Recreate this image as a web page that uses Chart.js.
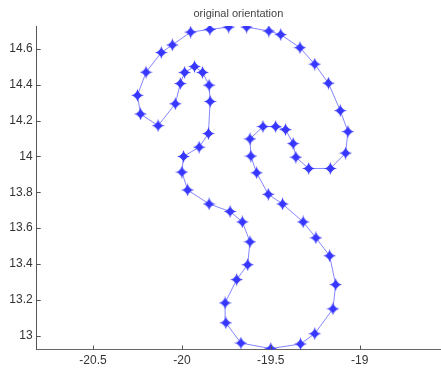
<!DOCTYPE html>
<html>
<head>
<meta charset="utf-8">
<script src="https://cdn.jsdelivr.net/npm/chart.js@4"></script>
<style>
html,body{margin:0;padding:0;background:#fff;}
#wrap{width:441px;height:370px;position:relative;}
</style>
</head>
<body>
<div id="wrap"><canvas id="c" width="441" height="370"></canvas></div>
<script>
const title = 'original orientation';
const xValues = [-19.636, -19.511, -19.444, -19.336, -19.253, -19.176, -19.109, -19.066, -19.079, -19.165, -19.287, -19.359, -19.374, -19.417, -19.473, -19.544, -19.617, -19.612, -19.580, -19.514, -19.434, -19.318, -19.246, -19.169, -19.135, -19.150, -19.253, -19.333, -19.500, -19.668, -19.753, -19.757, -19.692, -19.630, -19.617, -19.660, -19.729, -19.847, -19.968, -20.000, -19.991, -19.903, -19.851, -19.841, -19.847, -19.884, -19.929, -19.985, -20.009, -20.037, -20.134, -20.233, -20.250, -20.202, -20.116, -20.054, -19.951, -19.843, -19.737];
const yValues = [14.722, 14.700, 14.680, 14.607, 14.515, 14.409, 14.256, 14.139, 14.019, 13.933, 13.933, 13.996, 14.072, 14.150, 14.167, 14.167, 14.098, 14.002, 13.909, 13.789, 13.735, 13.635, 13.546, 13.446, 13.285, 13.150, 13.011, 12.954, 12.928, 12.959, 13.072, 13.183, 13.313, 13.396, 13.524, 13.635, 13.693, 13.735, 13.813, 13.913, 14.000, 14.052, 14.128, 14.307, 14.398, 14.469, 14.502, 14.469, 14.407, 14.294, 14.172, 14.237, 14.341, 14.470, 14.580, 14.622, 14.694, 14.709, 14.722];
const xTicks = [-20.5, -20, -19.5, -19];
const yTicks = [13, 13.2, 13.4, 13.6, 13.8, 14, 14.2, 14.4, 14.6];
const xRange = [-20.817, -18.548];
const yRange = [12.923, 14.728];

// 4-point star marker
function makeStar(){
  const s = 13, c = document.createElement('canvas');
  c.width = s; c.height = s;
  const g = c.getContext('2d');
  const m = s/2;
  g.fillStyle = 'rgb(55,55,255)';
  g.beginPath();
  g.moveTo(m, 0);
  g.quadraticCurveTo(m+1, m-1, s, m);
  g.quadraticCurveTo(m+1, m+1, m, s);
  g.quadraticCurveTo(m-1, m+1, 0, m);
  g.quadraticCurveTo(m-1, m-1, m, 0);
  g.closePath();
  g.fill();
  g.beginPath();
  g.arc(m, m, 3, 0, Math.PI*2);
  g.fill();
  return c;
}

const points = xValues.map((x, i) => ({x: x, y: yValues[i]}));

const inwardTicks = {
  id: 'inwardTicks',
  afterDatasetsDraw(chart){
    const ctx = chart.ctx, a = chart.chartArea;
    ctx.save();
    ctx.strokeStyle = '#555';
    ctx.lineWidth = 1;
    ctx.beginPath();
    xTicks.forEach(v => {
      const px = Math.round(chart.scales.x.getPixelForValue(v)) + 0.5;
      ctx.moveTo(px, a.bottom); ctx.lineTo(px, a.bottom - 4);
    });
    yTicks.forEach(v => {
      const py = Math.round(chart.scales.y.getPixelForValue(v)) + 0.5;
      ctx.moveTo(a.left, py); ctx.lineTo(a.left + 4, py);
    });
    ctx.stroke();
    // axes title centred over the plot area
    ctx.fillStyle = '#444';
    ctx.font = '11px "Liberation Sans", Arial, sans-serif';
    ctx.textAlign = 'center';
    ctx.textBaseline = 'middle';
    ctx.fillText(title, (a.left + a.right) / 2, 13.5);
    ctx.restore();
  }
};

new Chart(document.getElementById('c'), {
  type: 'scatter',
  data: {
    datasets: [{
      data: points,
      showLine: true,
      borderColor: 'rgba(120,120,255,0.9)',
      borderWidth: 1,
      backgroundColor: 'rgb(55,55,255)',
      pointStyle: makeStar(),
      pointRadius: 6,
      tension: 0
    }]
  },
  options: {
    responsive: false,
    animation: false,
    devicePixelRatio: 1,
    layout: {autoPadding: false, padding: {left: 0, right: 1, top: 26, bottom: 0}},
    plugins: {
      legend: {display: false},
      tooltip: {enabled: false},
      title: {display: false}
    },
    scales: {
      x: {
        type: 'linear',
        min: xRange[0], max: xRange[1],
        afterBuildTicks: s => { s.ticks = xTicks.map(v => ({value: v})); },
        afterFit: s => { s.height = 20.5; s.paddingLeft = 0; s.paddingRight = 0; },
        grid: {display: false, drawTicks: false},
        border: {display: true, color: '#666', width: 1},
        ticks: {
          padding: 4,
          color: '#333',
          font: {family: 'Liberation Sans, Arial, sans-serif', size: 12},
          callback: v => String(v),
          maxRotation: 0
        }
      },
      y: {
        type: 'linear',
        min: yRange[0], max: yRange[1],
        afterBuildTicks: s => { s.ticks = yTicks.map(v => ({value: v})); },
        afterFit: s => { s.width = 36.7; s.paddingTop = 0; s.paddingBottom = 0; },
        grid: {display: false, drawTicks: false},
        border: {display: true, color: '#555', width: 1},
        ticks: {
          padding: 4,
          color: '#333',
          font: {family: 'Liberation Sans, Arial, sans-serif', size: 12},
          callback: v => String(v)
        }
      }
    }
  },
  plugins: [inwardTicks]
});
</script>
</body>
</html>
